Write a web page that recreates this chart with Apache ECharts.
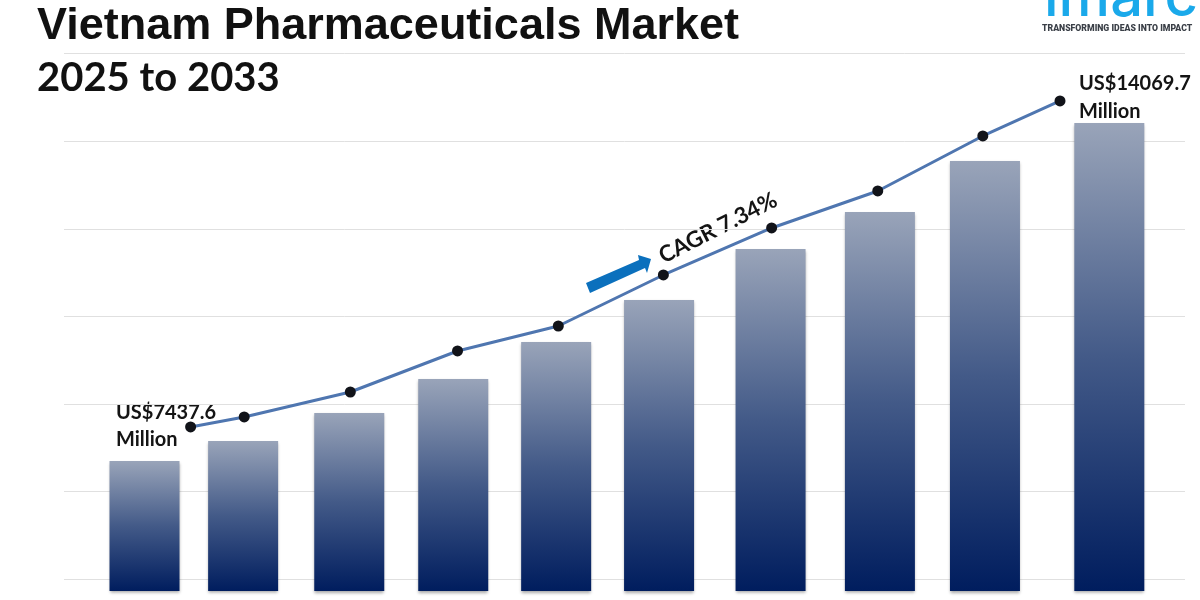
<!DOCTYPE html>
<html>
<head>
<meta charset="utf-8">
<title>Vietnam Pharmaceuticals Market</title>
<script src="https://cdn.jsdelivr.net/npm/echarts@6/dist/echarts.min.js"></script>
<style>
  html, body { margin: 0; padding: 0; background: #fff; }
  #chart { width: 1200px; height: 600px; }
</style>
</head>
<body>
<div id="chart"></div>
<script>
// bars in the picture are not evenly spaced, so years are read off as fractions
const barYears = [2025, 2025.92, 2026.91, 2027.88, 2028.84, 2029.8, 2030.84, 2031.86, 2032.84, 2034]
const barValues = [7437.6, 7830, 8379, 9046, 9772, 10596, 11597, 12323, 13323, 14069.7]
const trendYears = [2025.43, 2025.93, 2026.92, 2027.92, 2028.86, 2029.84, 2030.85, 2031.84, 2032.82, 2033.54]
const trendValues = [8105, 8301, 8791, 9596, 10086, 11087, 12009, 12735, 13814, 14501]
const gridValues = [5122, 6849, 8556, 10282, 11989, 13715, 15442]

const TITLE_FONT = '"Liberation Sans", Arial, sans-serif'
const LABEL_FONT = 'Lato, "Open Sans", sans-serif'

const chart = echarts.init(document.getElementById('chart'), null, { renderer: 'canvas' })

function zip(xs, ys) {
  return xs.map((x, i) => [x, ys[i]])
}

chart.setOption({
  animation: false,
  backgroundColor: '#ffffff',
  grid: { left: 64, right: 15, top: 53, bottom: 9 },
  xAxis: {
    type: 'value',
    min: 2024.249,
    max: 2034.706,
    show: false,
    splitLine: { show: false }
  },
  yAxis: {
    type: 'value',
    min: 4887,
    max: 15442,
    axisLine: { show: false },
    axisTick: { show: false, customValues: gridValues },
    axisLabel: { show: false, customValues: gridValues },
    splitLine: { show: true, lineStyle: { color: '#e0e0e0', width: 1 } }
  },
  series: [
    {
      name: 'Market size',
      type: 'bar',
      barWidth: 70,
      data: zip(barYears, barValues),
      itemStyle: {
        color: new echarts.graphic.LinearGradient(0, 0, 0, 1, [
          { offset: 0, color: '#99a4b9' },
          { offset: 0.5, color: '#435a88' },
          { offset: 1, color: '#001d5e' }
        ]),
        shadowColor: 'rgba(0, 0, 0, 0.35)',
        shadowBlur: 3,
        shadowOffsetY: 2
      }
    },
    {
      name: 'Trend',
      type: 'line',
      data: zip(trendYears, trendValues),
      symbol: 'circle',
      symbolSize: 11,
      itemStyle: { color: '#111319' },
      lineStyle: { color: '#4f76b0', width: 3 },
      z: 5
    }
  ],
  graphic: [
    { type: 'text', left: 37, top: 4, style: { text: 'Vietnam Pharmaceuticals Market', font: 'bold 45px ' + TITLE_FONT, fill: '#111111' } },
    { type: 'text', left: 37, top: 58, style: { text: '2025 to 2033', font: 'bold 40px ' + LABEL_FONT, fill: '#111111' } },
    { type: 'text', left: 1044, top: -30, style: { text: 'imarc', font: '500 58px Inter, sans-serif', fill: '#1aa9ea' } },
    { type: 'text', left: 1042, top: 24, style: { text: 'TRANSFORMING IDEAS INTO IMPACT', font: '900 8.7px Roboto, sans-serif', fill: '#3a3f47' } },
    { type: 'text', left: 116, top: 403, style: { text: 'US$7437.6', font: 'bold 20px ' + LABEL_FONT, fill: '#141414' } },
    { type: 'text', left: 116, top: 430, style: { text: 'Million', font: 'bold 20px ' + LABEL_FONT, fill: '#141414' } },
    { type: 'text', left: 1079, top: 74, style: { text: 'US$14069.7', font: 'bold 20px ' + LABEL_FONT, fill: '#141414' } },
    { type: 'text', left: 1079, top: 102, style: { text: 'Million', font: 'bold 20px ' + LABEL_FONT, fill: '#141414' } },
    {
      type: 'text',
      x: 718,
      y: 228,
      rotation: 27 * Math.PI / 180,
      style: { text: 'CAGR 7.34%', font: 'bold 22.5px ' + LABEL_FONT, fill: '#141414', align: 'center', verticalAlign: 'middle' }
    },
    {
      type: 'polygon',
      shape: { points: [[586, 283], [639, 260], [638, 255], [651, 259], [647, 273], [645, 268], [590, 293]] },
      style: { fill: '#0b70bd' },
      z: 6
    }
  ]
})

window.addEventListener('resize', () => chart.resize())
</script>
</body>
</html>
